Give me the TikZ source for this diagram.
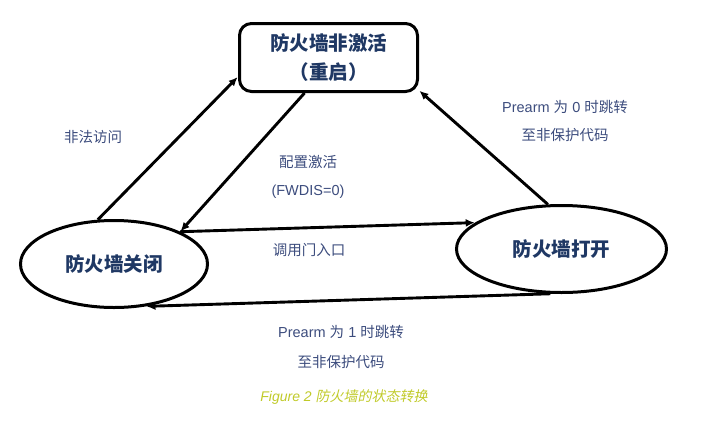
\documentclass[tikz,border=0pt]{standalone}
\usepackage{fontspec}
\setmainfont{Liberation Sans}
\newfontfamily\cjk{Noto Sans CJK SC}
\newfontfamily\cjkslant[FakeSlant=0.2]{Noto Sans CJK SC}
\usepackage{tikz}
\usetikzlibrary{arrows.meta,positioning,shapes.geometric}
\definecolor{navy}{RGB}{31,56,100}
\definecolor{labelblue}{RGB}{60,76,125}
\definecolor{capgreen}{RGB}{192,202,40}
\tikzset{
    %Define standard arrow tip
    >={Latex[length=9pt,width=8pt]},
    %Define style for the inactive box
    inactive/.style={
           rectangle,
           rounded corners=12pt,
           draw=black, line width=3pt,
           minimum width=178pt,
           minimum height=68pt,
           font=\fontsize{19.5}{29}\selectfont\cjk\bfseries,
           text=navy,
           align=center},
    %Define style for states
    state/.style={
           ellipse,
           draw=black, line width=3pt,
           minimum width=187pt,
           minimum height=87pt,
           font=\fontsize{19.5}{24}\selectfont\cjk\bfseries,
           text=navy},
    lbl/.style={
           font=\fontsize{14.5}{17}\selectfont,
           text=labelblue,
           inner sep=0pt,
           text height=10pt,
           text depth=3pt},
    % Define arrow style
    pil/.style={
           ->,
           line width=2.9pt,
           shorten >=0.5pt}
}

\begin{document}
\begin{tikzpicture}[x=1pt,y=-1pt,node distance=15pt]
\useasboundingbox (0,0) rectangle (714,434);
 %nodes
\node[inactive](off) at (328.5,57.5){防火墙非激活\\（重启）};
\node[state](closed) at (114,264){防火墙关闭};
\node[state, minimum width=210pt](open) at (561.5,249){防火墙打开};
 %labels
\node[lbl](illegal) at (93,139){\cjk 非法访问};
\node[lbl](config) at (308,164){\cjk 配置激活};
\node[lbl, below=of config](fwdis){(FWDIS=0)};
\node[lbl](gate) at (309,252){\cjk 调用门入口};
\node[lbl](prearm0) at (565,109){Prearm {\cjk 为} 0 {\cjk 时跳转}};
\node[lbl, below=of prearm0](jump0){\cjk 至非保护代码};
\node[lbl](prearm1) at (341,334){Prearm {\cjk 为} 1 {\cjk 时跳转}};
\node[lbl, below=17pt of prearm1](jump1){\cjk 至非保护代码};
\node[lbl, below=20pt of jump1, xshift=3pt, text=capgreen, font=\fontsize{14}{17}\selectfont\itshape](caption){Figure 2 {\cjkslant 防火墙的状态转换}};
 %transitions
\path[pil]
    (closed.110) edge (off.192)
    (off.236) edge (closed.26)
    (closed.26) edge (open.163)
    (open.107) edge (off.340)
    (open.256) edge (closed.307);
\end{tikzpicture}
\end{document}
